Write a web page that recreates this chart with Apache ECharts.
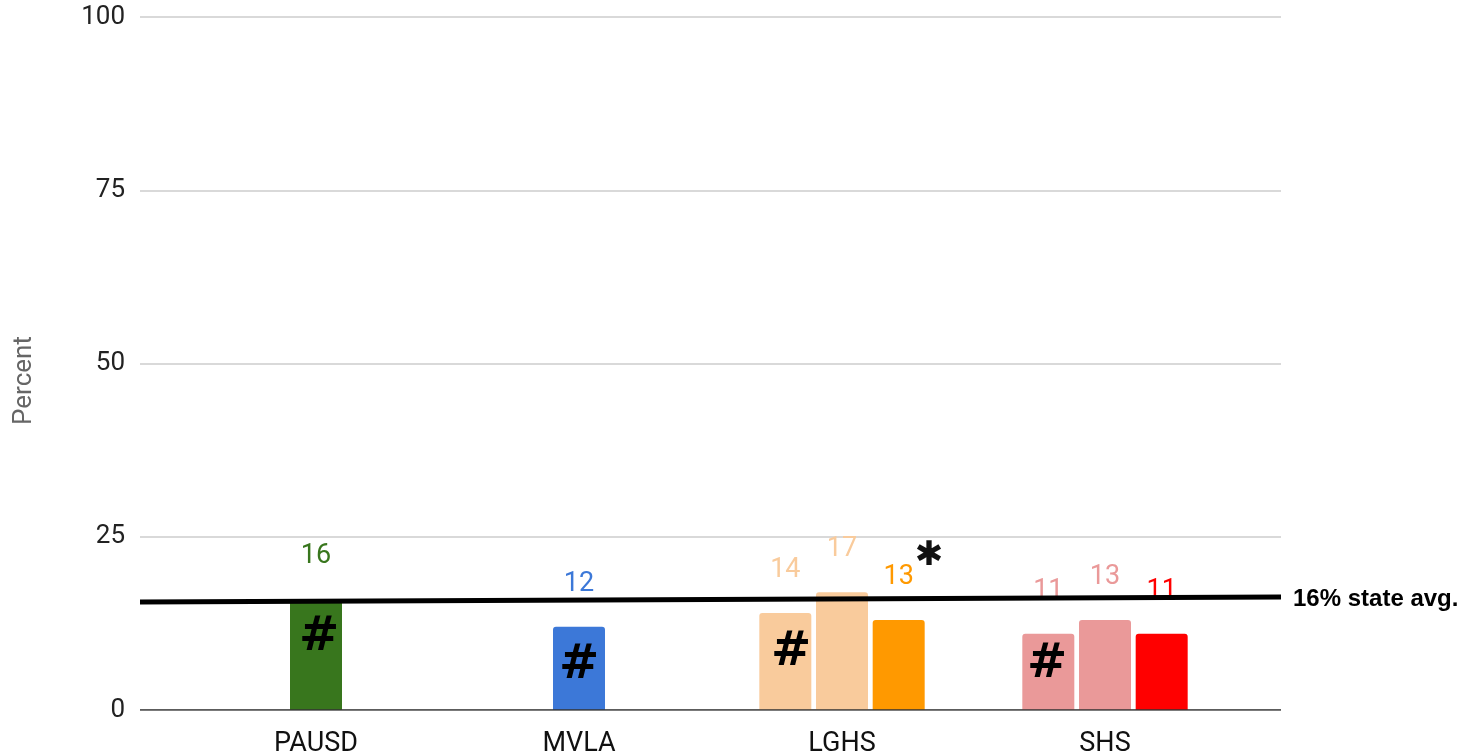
<!DOCTYPE html>
<html>
<head>
<meta charset="utf-8">
<script src="https://cdn.jsdelivr.net/npm/echarts@6/dist/echarts.min.js"></script>
<style>
html, body { margin: 0; padding: 0; background: #fff; }
#main { width: 1477px; height: 755px; }
</style>
</head>
<body>
<div id="main"></div>
<script>
var categories = ['PAUSD', 'MVLA', 'LGHS', 'SHS'];
var leftBars = [null, null, 14, 11];
var midBars = [16, 12, 17, 13];
var rightBars = [null, null, 13, 11];
var leftColors = ['#f9cb9c', '#f9cb9c', '#f9cb9c', '#ea9999'];
var midColors = ['#38761d', '#3c78d8', '#f9cb9c', '#ea9999'];
var rightColors = ['#ff9900', '#ff9900', '#ff9900', '#ff0000'];
var yTicks = [0, 25, 50, 75, 100];
var stateAvgLine = [[0, 15.6], [1, 16.3]];
var stateAvgText = '16% state avg.';

var dom = document.getElementById('main');
var myChart = echarts.init(dom);

function barSeries(name, values, colors) {
    return {
        name: name,
        type: 'bar',
        xAxisIndex: 1,
        yAxisIndex: 1,
        barWidth: 52,
        barGap: '9%',
        z: 2,
        data: values.map(function (v, i) {
            return {
                value: v,
                itemStyle: { color: colors[i], borderRadius: [3, 3, 0, 0] },
                label: { color: colors[i] }
            };
        }),
        label: {
            show: true,
            position: 'top',
            distance: 29,
            fontSize: 27,
            fontFamily: 'Roboto'
        }
    };
}

var option = {
    animation: false,
    grid: [
        { left: 140, right: 196, top: 17, bottom: 45, outerBoundsMode: 'none' },
        { left: 184.5, right: 240.5, top: 17, bottom: 45, outerBoundsMode: 'none' }
    ],
    xAxis: [
        { type: 'value', gridIndex: 0, min: 0, max: 1, show: false },
        {
            type: 'category', gridIndex: 1, data: categories,
            axisLine: { show: false },
            axisTick: { show: false },
            axisLabel: { color: '#111', fontSize: 27, fontFamily: 'Roboto', margin: 21 }
        }
    ],
    yAxis: [
        {
            type: 'value', gridIndex: 0, min: 0, max: 100, interval: 25,
            name: 'Percent', nameLocation: 'middle', nameGap: 103,
            nameTextStyle: { color: '#666', fontSize: 26, fontFamily: 'Roboto', padding: [0, 34, 0, 0] },
            axisLine: { show: false },
            axisTick: { show: false },
            axisLabel: { color: '#222', fontSize: 26, fontFamily: 'Roboto', margin: 15 },
            splitLine: { lineStyle: { color: '#cccccc', width: 1.5 } }
        },
        {
            type: 'value', gridIndex: 1, min: 0, max: 100, interval: 25, show: false
        }
    ],
    series: [
        barSeries('a', leftBars, leftColors),
        barSeries('b', midBars, midColors),
        barSeries('c', rightBars, rightColors),
        {
            name: 'zero',
            type: 'line',
            xAxisIndex: 0,
            yAxisIndex: 0,
            data: [[0, 0], [1, 0]],
            symbol: 'none',
            lineStyle: { color: '#333', width: 1.5 },
            z: 3,
            silent: true
        },
        {
            name: 'state',
            type: 'line',
            xAxisIndex: 0,
            yAxisIndex: 0,
            data: stateAvgLine,
            symbol: 'none',
            lineStyle: { color: '#000', width: 5 },
            z: 10,
            endLabel: {
                show: true,
                formatter: stateAvgText,
                color: '#000',
                fontWeight: 'bold',
                fontSize: 24,
                fontFamily: 'Liberation Sans',
                distance: 12,
                offset: [0, 2]
            }
        }
    ],
    graphic: [
        { type: 'text', x: 319, y: 638, z: 20, style: { text: '#', font: 'bold 48px "DejaVu Sans"', fill: '#000', align: 'center', verticalAlign: 'middle' } },
        { type: 'text', x: 579, y: 666, z: 20, style: { text: '#', font: 'bold 48px "DejaVu Sans"', fill: '#000', align: 'center', verticalAlign: 'middle' } },
        { type: 'text', x: 791, y: 653, z: 20, style: { text: '#', font: 'bold 48px "DejaVu Sans"', fill: '#000', align: 'center', verticalAlign: 'middle' } },
        { type: 'text', x: 1047, y: 665, z: 20, style: { text: '#', font: 'bold 48px "DejaVu Sans"', fill: '#000', align: 'center', verticalAlign: 'middle' } },
        { type: 'text', x: 929, y: 556, z: 20, style: { text: '\u2731', font: 'bold 34px "DejaVu Sans"', fill: '#111', align: 'center', verticalAlign: 'middle' } }
    ]
};

if (option && typeof option === 'object') {
    myChart.setOption(option);
}
</script>
</body>
</html>
